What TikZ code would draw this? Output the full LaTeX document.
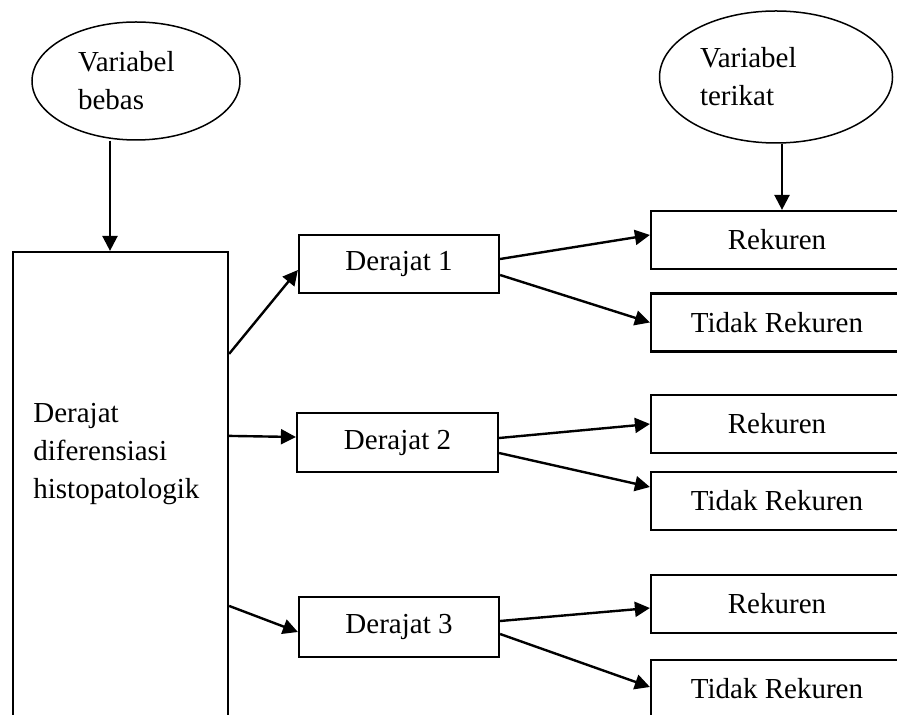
\documentclass[tikz,border=0pt]{standalone}
\usepackage{fontspec}
\setmainfont{Liberation Serif}
\usetikzlibrary{shapes.geometric,arrows.meta}

\begin{document}
\begin{tikzpicture}[
    x=0.5pt, y=-0.5pt,
    font=\fontsize{14.5pt}{19pt}\selectfont,
    box/.style={draw, line width=1.1pt, rectangle, inner sep=0pt},
    varnode/.style={draw, line width=0.75pt, ellipse, inner sep=0pt, align=left},
    arr/.style={line width=1.2pt, -{Triangle[length=7.5pt,width=7.5pt]}}
  ]
      % Canvas
      \useasboundingbox (0,0) rectangle (897,715);
      \clip (0,0) rectangle (897,715);

      % Variables
      \node[varnode, minimum width=104pt, minimum height=59pt, text width=58pt] (vbebas) at (136,81) {Variabel\\bebas};
      \node[varnode, minimum width=116.5pt, minimum height=66pt, text width=76pt] (vterikat) at (776,77) {Variabel\\terikat};

      % Independent variable box
      \node[box, minimum width=107.5pt, minimum height=259pt] (hist) at (120.5,511) {};
      \node[align=left, inner sep=0pt, anchor=west] (histlbl) at (33,454) {Derajat\\diferensiasi\\histopatologik};

      % Grade boxes
      \node[box, minimum width=100pt, minimum height=29pt] (d1) at (399,264) {Derajat 1};
      \node[box, minimum width=100.5pt, minimum height=29.5pt] (d2) at (397.5,442.5) {Derajat 2};
      \node[box, minimum width=100pt, minimum height=30pt] (d3) at (399,627) {Derajat 3};

      % Outcome boxes
      \foreach \name/\ypos/\txt in {
          r1/240/Rekuren,
          t1/322.5/Tidak Rekuren,
          r2/424/Rekuren,
          t2/501/Tidak Rekuren,
          r3/604/Rekuren,
          t3/689/Tidak Rekuren
      } {
          \node[box, minimum width=126pt, minimum height=29pt] (\name) at (777,\ypos) {\txt};
      }

      % Arrows from variables
      \draw[arr] ([xshift=-13pt]vbebas.south) -- ([xshift=-13pt]vbebas.south |- hist.north);
      \draw[arr] ([xshift=3pt]vterikat.south) -- ([xshift=3pt]vterikat.south |- r1.north);

      % Arrows to grades
      \draw[arr] ([yshift=-51.5pt]hist.north east) -- ([yshift=-3pt]d1.west);
      \draw[arr] ([yshift=-92.5pt]hist.north east) -- ([yshift=2.75pt]d2.west);
      \draw[arr] ([yshift=-177.5pt]hist.north east) -- ([yshift=-2.5pt]d3.west);

      % Arrows to outcomes
      \foreach \src/\dst/\sy/\dy in {
          d1/r1/2.5/2.5,
          d1/t1/-5.5/0,
          d2/r2/2.25/0,
          d2/t2/-5.25/7,
          d3/r3/3/-2,
          d3/t3/-3.5/1
      } {
          \draw[arr] ([yshift=\sy pt]\src.east) -- ([yshift=\dy pt]\dst.west);
      }

\end{tikzpicture}
\end{document}
